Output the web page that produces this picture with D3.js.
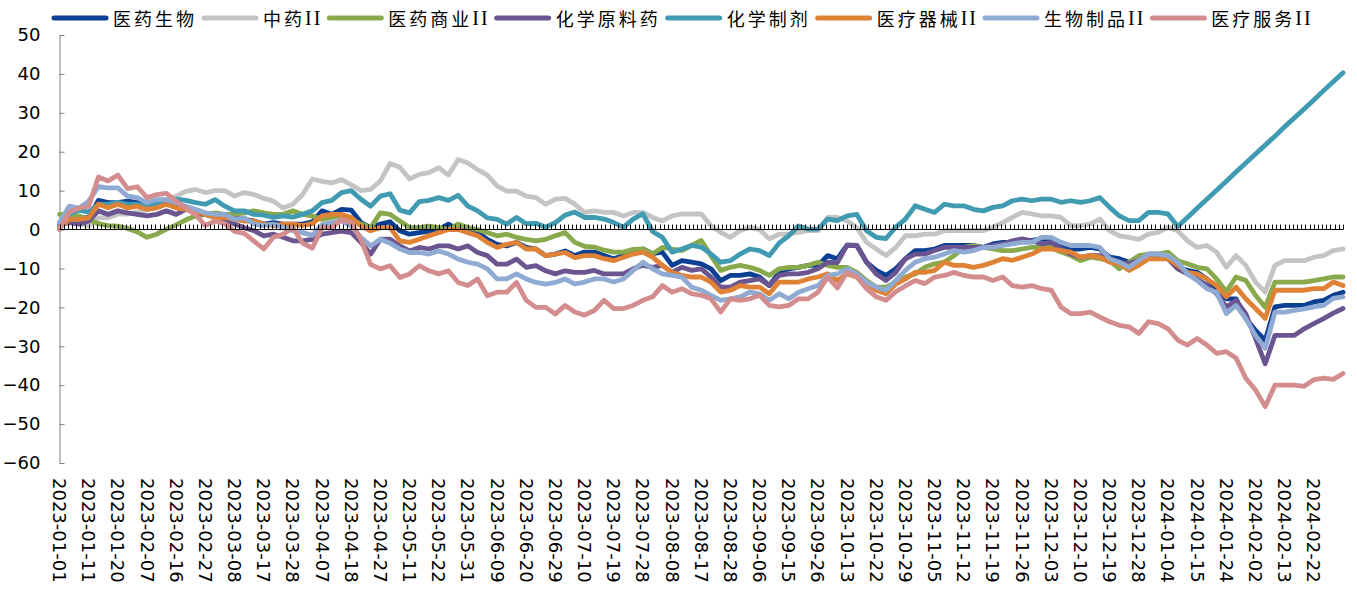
<!DOCTYPE html>
<html><head><meta charset="utf-8">
<script src="https://cdn.jsdelivr.net/npm/d3@7/dist/d3.min.js"></script>
<style>body{margin:0;background:#fff;} svg{display:block;}</style>
</head><body>
<svg id="c" width="1357" height="589"></svg>
<script>
const tickLabels = ["2023-01-01","2023-01-11","2023-01-20","2023-02-07","2023-02-16","2023-02-27","2023-03-08","2023-03-17","2023-03-28","2023-04-07","2023-04-18","2023-04-27","2023-05-11","2023-05-22","2023-05-31","2023-06-09","2023-06-20","2023-06-29","2023-07-10","2023-07-19","2023-07-28","2023-08-08","2023-08-17","2023-08-28","2023-09-06","2023-09-15","2023-09-26","2023-10-13","2023-10-22","2023-10-29","2023-11-05","2023-11-12","2023-11-19","2023-11-26","2023-12-03","2023-12-10","2023-12-19","2023-12-28","2024-01-04","2024-01-15","2024-01-24","2024-02-02","2024-02-13","2024-02-22"];
const yTicks = [-60,-50,-40,-30,-20,-10,0,10,20,30,40,50];
const seriesNames = ["医药生物","中药II","医药商业II","化学原料药","化学制剂","医疗器械II","生物制品II","医疗服务II"];
const seriesColors = ["#0b3f94","#c4c4c4","#89aa4c","#6b5590","#3f9ab2","#e08236","#8faad3","#d48d8e"];

const yiyaoshengwu = [0.5,3.5,3.1,3,7.5,6.9,6.9,7.3,6.9,6,6.5,6.5,6,5.6,4.8,3.9,3.9,3.1,3.1,2.6,2.2,1.4,1.8,1.4,1.4,1.4,2,
4.8,3.9,5.2,5,1.8,0.5,1.4,2,-0.3,-1.2,-0.8,-0.4,0,1.4,0,0,-0.8,-2.5,-3.8,-4.2,-3.3,-4.6,-5,-6.7,-6.3,-5.5,-6.7,
-5.8,-5.8,-6.7,-7.5,-6.7,-5.8,-5,-6.2,-5.8,-9.2,-8,-8.4,-8.8,-10.1,-13.1,-11.8,-11.8,-11.4,-12.2,-14.4,-11,-10.1,-9.7,-9.2,-9.2,-6.7,-7.5,
-4,-4.1,-8.4,-10.5,-11.8,-10.1,-7.5,-5.4,-5.4,-5,-4.1,-4.1,-4.1,-4.1,-4.6,-3.7,-3.3,-3.3,-2.8,-2.8,-2.4,-2.8,-4.1,-5,-5,-4.6,-5,
-7.1,-7.5,-8.4,-7.5,-6.3,-6.3,-7.1,-9.7,-10.5,-11,-12.7,-15.2,-17.8,-17.8,-22.9,-25.9,-28.5,-19.9,-19.5,-19.5,-19.5,-18.6,-18.2,-16.9,-16.1];

const zhongyao = [1,2,1.5,1,3,3,4,4,4.5,5,6.5,7.5,8.6,9.8,10.3,9.5,10,10,8.6,9.5,9,8,7.3,5.5,6.5,9,13,
12.4,12,12.8,11.5,10,10.3,12.5,17,16,13,14.2,14.6,15.9,14,18,17.1,15.4,14,11.2,9.9,9.9,8.6,8.2,6.5,7.8,8,6.5,
4.4,4.8,4.4,4.4,3.5,4.4,4.4,3.1,2.2,3.5,4,4,4,1,-0.7,-2,-0.3,0.6,0,-2.4,-1.2,-1.2,-0.7,-0.3,-0.3,3.1,3.1,
2.3,0.5,-3.3,-5,-6.7,-4.6,-1.6,-1.6,-1.2,-1.2,-0.3,-0.3,-0.3,-0.3,-0.3,0.6,1.8,3.1,4.4,4,3.5,3.5,3.1,1,1,1.4,2.7,
-0.3,-1.6,-2,-2.5,-1.2,-0.7,0.6,-0.3,-2.9,-4.6,-4.1,-5.8,-9.7,-6.7,-9.2,-13.5,-16.1,-9.2,-8,-8,-8,-7.1,-6.7,-5.4,-5];

const yiyaoshangye = [3.9,3.9,3.5,2.6,1.5,1,0.9,0.3,-0.6,-2,-1.2,0.1,1.2,2.5,3.5,3.9,4.3,3.9,3.9,4.3,4.8,4.3,3.9,3.9,4.8,3.9,3.5,
2.6,3.1,3.5,2.6,1.4,0.5,4.3,3.9,2.2,0.5,0.5,0.9,0.5,0,1.4,0.5,0,-0.8,-1.6,-1.2,-2,-2.5,-2.9,-2.5,-1.6,-0.8,-3.3,
-4.3,-4.5,-5.3,-5.8,-5.8,-5.1,-5,-6.2,-4.6,-5,-5.4,-4.1,-2.8,-6.7,-10.5,-9.7,-9.2,-9.7,-10.5,-11.8,-10.1,-9.7,-9.7,-9.2,-8.4,-9.2,-9.7,
-9.7,-11,-13.1,-14.8,-14.8,-13.5,-12.2,-11.4,-9.7,-8.8,-8.4,-6.7,-4.6,-4.1,-4.6,-5,-5.4,-5.4,-5,-4.6,-4.6,-4.6,-5.8,-6.7,-8,-7.1,-7.5,
-8,-10.1,-8.4,-6.7,-6.3,-6.3,-5.8,-8,-8.8,-9.7,-10.1,-12.7,-16,-12.2,-13.1,-16.9,-20,-13.5,-13.5,-13.5,-13.5,-13.1,-12.7,-12.2,-12.2];

const huaxueyuanliao = [1.4,1.8,1.4,2.2,4.8,3.9,4.8,4.3,3.9,3.5,3.9,4.8,3.9,5.2,4.3,3.9,3.1,2.6,1.4,0.5,-0.3,-1.6,-1.2,-2,-2.9,-2.9,-2.5,
-1.2,-0.8,-0.4,-0.8,-3.3,-6.3,-2.5,-2.5,-4.2,-5.5,-4.6,-5,-4.2,-4.2,-5,-4.2,-5.9,-6.7,-8.9,-8.9,-7.6,-9.7,-9.3,-10.6,-11.4,-10.6,-11,
-11,-10.5,-11.4,-11.4,-11.4,-10.1,-9.2,-9.7,-9.2,-11,-9.7,-10.5,-10.1,-12.2,-14.8,-14.8,-13.5,-13.1,-12.7,-14.4,-11.8,-11.4,-11.4,-11,-10.1,-8.4,-8.5,
-4,-4.1,-8.4,-11.4,-13.1,-11,-7.5,-6.3,-6.3,-5.4,-4.6,-4.6,-4.6,-4.6,-4.6,-4.1,-3.7,-2.9,-2.4,-2.9,-3.7,-3.3,-5,-6.3,-7.1,-6.7,-6.7,
-7.5,-8.4,-8.8,-7.9,-6.7,-6.7,-7.5,-10.1,-11.4,-12.7,-14.4,-16.5,-19.9,-18.2,-21.6,-28,-34.5,-27.2,-27.2,-27.2,-25.5,-24.2,-22.9,-21.5,-20.3];

const huaxuezhiji = [0.5,4,5,4.5,6.5,6.5,7,6.5,6.5,6,6.5,7,7.8,7.5,6.9,6.5,7.7,6,4.8,4.8,3.9,3.7,3.1,3.5,3.2,3.9,4.8,
6.9,7.5,9.5,10,7.8,6,8.6,9.2,5,4.3,7.2,7.5,8.2,7.5,8.8,6,4.8,3,2.6,1.4,3.1,1.5,1.6,0.6,1.8,3.7,4.5,
3.1,3.1,2.7,1.8,0.6,2.7,4,-0.5,-2,-5.8,-5,-4.1,-4.5,-6.3,-8.4,-8,-6.3,-5,-5.4,-6.7,-3.5,-1.6,0.9,0.1,0.1,2.7,2.3,
3.5,3.9,-0.3,-2,-2.3,0.6,2.7,6.1,5.2,4.4,6.5,6.1,6.1,5.2,4.8,5.7,6.1,7.4,7.8,7.4,7.8,7.8,7,7.4,7,7.4,8.2,
5.7,3.5,2.3,2.3,4.4,4.4,4,0.8,3.1,5.5,7.8,10.1,12.4,14.8,17.1,19.4,21.7,24.0,26.4,28.7,31.0,33.3,35.7,38.0,40.3];

const yiliaoqixie = [0.5,2.6,2.6,3,6.5,5.6,6.5,5.6,6,5.2,5.6,6.5,5.6,5.2,4.8,3.9,3.1,3.1,2.6,2.2,2.2,1.4,1,1.4,1.4,1,1.5,
3.5,3.9,3.9,3.1,0.9,-0.3,0.5,0.5,-2.9,-3.3,-2.5,-1.6,-0.8,0,0,-0.8,-1.6,-3.3,-4.6,-3.8,-3.3,-5,-5,-6.7,-6.3,-5.9,-7.2,
-6.7,-6.7,-7.5,-8,-7.1,-6.3,-5.8,-7.1,-9.2,-11,-11.8,-12.2,-12.2,-13.5,-16.1,-15.6,-14.4,-14.8,-14.8,-16.5,-13.5,-13.5,-13.5,-12.7,-12.2,-11.4,-13.1,
-11.4,-12.2,-14,-15.6,-16.5,-14,-12.7,-11,-11,-10.5,-8.4,-9.2,-9.2,-9.7,-9.2,-8.4,-7.5,-7.9,-7.1,-6.3,-5,-5,-5.4,-5.8,-7.1,-6.7,-7.1,
-8.4,-8.8,-10.5,-9.2,-7.5,-7.5,-7.5,-9.2,-11,-11.4,-12.7,-14.4,-17.3,-14.8,-17.8,-20.3,-22.8,-15.6,-15.6,-15.6,-15.6,-15.2,-15.2,-13.5,-14.4];

const shengwuzhipin = [1.8,6,5.5,7.3,11,10.7,10.7,8.6,8.2,6.9,7.7,7.7,6.9,6,5.2,4.3,3.9,3.9,2.6,3,1.4,1,1.4,0.5,-0.3,-0.8,-1.5,
1.3,1.8,2.2,0.9,-2,-4.2,-2.5,-3.5,-5,-5.9,-5.9,-6.3,-5.5,-6.3,-7.6,-8.4,-8.9,-10.1,-12.7,-12.7,-11.4,-12.7,-13.6,-14,-13.6,-12.7,-14,
-13.5,-12.7,-12.7,-13.5,-12.7,-10.5,-8.4,-10.1,-11.4,-11.8,-12.2,-14.8,-15.6,-16.9,-18.2,-17.8,-17.3,-16.1,-16.5,-18.2,-16.5,-17.8,-16.1,-15.2,-14.4,-11.8,-11.4,
-10.1,-11.4,-13.5,-14.8,-15.6,-13.1,-10.5,-8.4,-7.5,-7.1,-6.3,-5.4,-5.8,-5.4,-4.6,-4.6,-4.1,-3.7,-3.3,-3.3,-2,-2,-3.3,-4.1,-4.1,-4.1,-4.6,
-7.5,-8.4,-9.7,-7.9,-6.3,-6.3,-6.7,-8.4,-11.4,-13.1,-15.2,-16.1,-21.6,-19.5,-22.9,-27.2,-30.5,-21.2,-21.2,-20.8,-20.4,-19.9,-19.5,-17.7,-17.3];

const yiliaofuwu = [0,4.5,5.5,6,13.5,12.5,14,10.5,11,8.2,9,9.3,7.3,5.5,3.8,1,2.2,1.5,-0.5,-1,-3,-5,-2,-1.2,0.5,-3.5,-4.8,
0.5,0.5,2.6,1.8,-2.5,-9,-10.1,-9.3,-12.3,-11.4,-9.3,-10.6,-11.4,-10.6,-13.6,-14.4,-12.7,-17,-16.1,-16.1,-13.6,-18.2,-20,-20,-21.7,-19.5,-21.2,
-22,-20.8,-18.2,-20.3,-20.3,-19.5,-18.2,-17.3,-14.4,-16.1,-15.2,-16.5,-16.9,-17.8,-21.2,-17.8,-18.2,-17.8,-16.9,-19.5,-19.9,-19.5,-17.8,-17.8,-16.1,-12.2,-15,
-11,-12.2,-15.2,-17.3,-18.2,-16,-14.5,-13.1,-13.9,-12.2,-11.8,-11,-11.8,-12.2,-12.2,-13.1,-12.2,-14.4,-14.8,-14.4,-15.2,-15.6,-19.9,-21.6,-21.6,-21.2,-22.5,
-23.7,-24.6,-25,-26.7,-23.7,-24.2,-25.5,-28.4,-29.7,-28,-29.7,-31.8,-31.4,-33,-38.2,-41.2,-45.5,-40,-40,-40,-40.3,-38.6,-38.2,-38.5,-37];

const seriesValues = [yiyaoshengwu, zhongyao, yiyaoshangye, huaxueyuanliao, huaxuezhiji, yiliaoqixie, shengwuzhipin, yiliaofuwu];

// ---- drawing ----
const svg = d3.select("#c");
const nDays = 309;               // trading-day slots on the category axis
const labelEvery = 7;            // one date label every 7 slots
const ptStep = (nDays - 1) / (yiyaoshengwu.length - 1);

const x = d3.scaleLinear().domain([0, nDays - 1]).range([59.5, 1343]);
const y = d3.scaleLinear().domain([-60, 50]).range([463, 35]);

// y axis
const yAxis = d3.axisLeft(y).tickValues(yTicks).tickSizeInner(-5).tickSizeOuter(0).tickPadding(19);
const gy = svg.append("g").attr("transform", "translate(59.5,0)").call(yAxis);
gy.select(".domain").attr("stroke", "#7f7f7f");
gy.selectAll(".tick line").attr("stroke", "#7f7f7f");
gy.selectAll(".tick text").attr("font-family", "DejaVu Sans, Verdana, sans-serif").attr("font-size", 18).attr("fill", "#000");

// series lines
const line = d3.line().x((d, j) => x(j * ptStep)).y(d => y(d)).curve(d3.curveLinear);
seriesValues.forEach((vals, k) => {
  svg.append("path").datum(vals)
    .attr("d", line)
    .attr("fill", "none")
    .attr("stroke", seriesColors[k])
    .attr("stroke-width", 4.8)
    .attr("stroke-linejoin", "round")
    .attr("stroke-linecap", "round");
});

// category axis at zero
const y0 = y(0);
const gx = svg.append("g");
gx.append("line").attr("x1", x(0)).attr("x2", x(nDays - 1)).attr("y1", y0).attr("y2", y0)
  .attr("stroke", "#000").attr("stroke-width", 1);
gx.selectAll("line.t").data(d3.range(nDays)).join("line").attr("class", "t")
  .attr("x1", d => Math.round(x(d)) + 0.5).attr("x2", d => Math.round(x(d)) + 0.5)
  .attr("y1", y0 - 5).attr("y2", y0).attr("stroke", "#000").attr("stroke-width", 1);

// date labels
svg.append("g").selectAll("text").data(tickLabels).join("text")
  .attr("transform", (d, i) => `translate(${x(i * labelEvery)},478) rotate(90)`)
  .attr("text-anchor", "start")
  .attr("dominant-baseline", "central")
  .attr("font-family", "DejaVu Sans, Verdana, sans-serif")
  .attr("font-size", 18)
  .attr("fill", "#000")
  .text(d => d);

// legend
const lg = svg.append("g");
let cx = 52;
const ly = 18;
seriesNames.forEach((name, k) => {
  lg.append("line").attr("x1", cx + 2).attr("x2", cx + 54).attr("y1", ly).attr("y2", ly)
    .attr("stroke", seriesColors[k]).attr("stroke-width", 5).attr("stroke-linecap", "round");
  const t = lg.append("text").attr("x", cx + 61).attr("y", ly)
    .attr("dominant-baseline", "central")
    .attr("font-size", 18)
    .attr("letter-spacing", "3px")
    .attr("fill", "#000");
  const m = name.match(/^(.*?)(I+)?$/);
  t.append("tspan").attr("font-family", "Noto Sans CJK SC, sans-serif").text(m[1]);
  if (m[2]) t.append("tspan").attr("font-family", "Liberation Serif, DejaVu Serif, serif")
    .attr("font-size", 20).attr("letter-spacing", "2px").text(m[2]);
  const w = t.node().getComputedTextLength();
  cx = cx + 61 + w + 5;
});
</script>
</body></html>
